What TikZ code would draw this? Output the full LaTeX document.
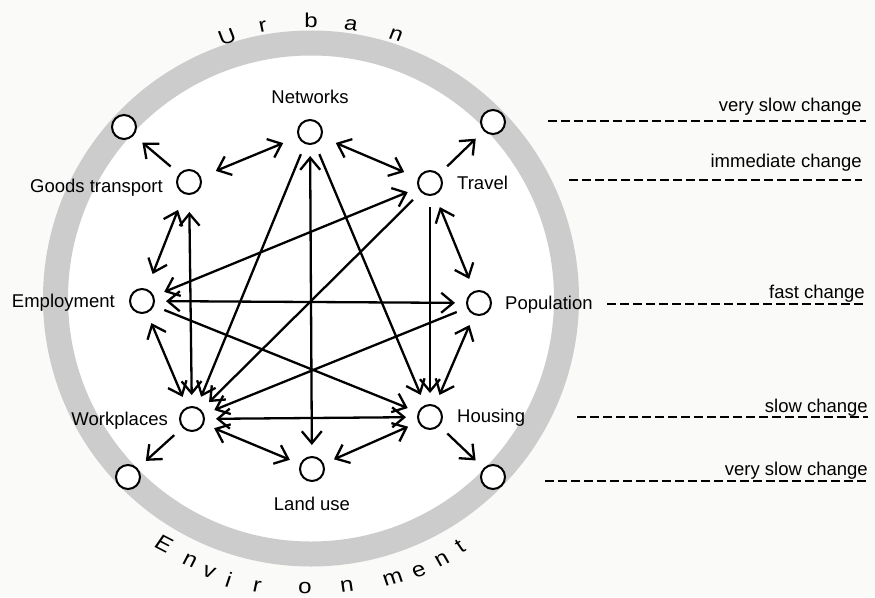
\documentclass[tikz,border=0pt]{standalone}
\usepackage{fontspec}
\setmainfont{Liberation Sans}
\usetikzlibrary{arrows.meta}
\definecolor{bgcol}{RGB}{250,250,248}
\definecolor{ringcol}{RGB}{204,204,204}
\begin{document}
\begin{tikzpicture}[x=1pt,y=-1pt,
  state/.style={circle,draw,line width=2pt,fill=white,minimum size=24pt,inner sep=0pt,outer sep=12pt},
  lbl/.style={font=\fontsize{18.5}{20}\selectfont,inner sep=0pt},
  toplet/.style={font=\fontsize{20}{22}\selectfont,inner sep=0pt,xscale=1.2},
  botlet/.style={font=\fontsize{21}{23}\selectfont,inner sep=0pt,xscale=1.15},
  tip/.tip={Straight Barb[length=12pt,width=20pt]},
  link/.style={line width=2.3pt,-tip},
  both/.style={line width=2.3pt,tip-tip},
  dashline/.style={line width=2pt,dash pattern=on 9pt off 4pt}
]
\useasboundingbox (0,0) rectangle (875,597);
\fill[bgcol] (0,0) rectangle (875,597);
\fill[white] (311,298.5) circle (256pt);
\draw[ringcol,line width=25pt] (311,298.5) circle (255.5pt);

% curved texts
\node[toplet,rotate=18] at (227,37) {U};
\node[toplet,rotate=10] at (263,27) {r};
\node[toplet,rotate=0] at (311,20) {b};
\node[toplet,rotate=-8.5] at (351,25) {a};
\node[toplet,rotate=-18] at (396,35) {n};

\node[botlet,rotate=-30.8] at (164,544) {E};
\node[botlet,rotate=-24.1] at (190,561) {n};
\node[botlet,rotate=-20.4] at (209,572) {v};
\node[botlet,rotate=-16.2] at (229,580) {i};
\node[botlet,rotate=-10.4] at (257,587) {r};
\node[botlet,rotate=-1] at (305,588) {o};
\node[botlet,rotate=7.3] at (347,586) {n};
\node[botlet,rotate=16.4] at (393,579) {m};
\node[botlet,rotate=21.3] at (419,571) {e};
\node[botlet,rotate=26.2] at (442,560) {n};
\node[botlet,rotate=31] at (460,546) {t};

% nodes
\node[state] (net) at (310,132) {};
\node[state] (tr) at (430,183) {};
\node[state] (gt) at (189,182) {};
\node[state] (emp) at (142,301) {};
\node[state] (pop) at (479,303) {};
\node[state] (wp) at (192,419) {};
\node[state] (ho) at (430,417) {};
\node[state] (lu) at (312,469) {};
\node[state] (otl) at (124,127) {};
\node[state] (otr) at (493,122) {};
\node[state] (obl) at (128,477) {};
\node[state] (obr) at (493,477) {};

% labels
\node[lbl,anchor=base] (netl) at (310,103) {Networks};
\node[lbl,anchor=base west] (trl) at (457,189) {Travel};
\node[lbl,anchor=base east] (gtl) at (163,192) {Goods transport};
\node[lbl,anchor=base east] (empl) at (115,307) {Employment};
\node[lbl,anchor=base west] (popl) at (505,309) {Population};
\node[lbl,anchor=base east] (wpl) at (168,425) {Workplaces};
\node[lbl,anchor=base west] (hol) at (457,422) {Housing};
\node[lbl,anchor=base] (lul) at (312,510) {Land use};

% connectors
\draw[both,shorten <=5pt,shorten >=5pt] (gt) -- (net);
\draw[both,shorten <=4pt,shorten >=4pt] (net) -- (tr);
\draw[link] (gt) -- (otl);
\draw[link] (tr) -- (otr);
\draw[both,shorten <=6pt,shorten >=5pt] (gt) -- (emp);
\draw[both,shorten <=2pt,shorten >=2pt] (tr) -- (pop);
\draw[both] (emp) -- (wp);
\draw[both] (pop) -- (ho);
\draw[link] (wp) -- (obl);
\draw[link] (ho) -- (obr);
\draw[both] (wp) -- (lu);
\draw[both] (lu) -- (ho);
\draw[both] (wp) -- (ho);
\draw[both] (emp) -- (pop);
\draw[both,shorten <=6pt] (gt) -- (wp);
\draw[link] (net) -- (wp);
\draw[both] (net) -- (lu);
\draw[link] (net) -- (ho);
\draw[link] (tr) -- (ho);
\draw[link] (tr) -- (wp);
\draw[both] (emp) -- (tr);
\draw[link] (emp) -- (ho);
\draw[link] (pop) -- (wp);

% change scale
\node[lbl,anchor=base east] (c1) at (862,111) {very slow change};
\draw[dashline] (548,121) -- (866,121);
\node[lbl,anchor=base east] (c2) at (862,167) {immediate change};
\draw[dashline] (569,180) -- (862,180);
\node[lbl,anchor=base east] (c3) at (865,298) {fast change};
\draw[dashline] (607,304) -- (865,304);
\node[lbl,anchor=base east] (c4) at (868,412) {slow change};
\draw[dashline] (577,417) -- (868,417);
\node[lbl,anchor=base east] (c5) at (868,475) {very slow change};
\draw[dashline] (545,481) -- (868,481);
\end{tikzpicture}
\end{document}
